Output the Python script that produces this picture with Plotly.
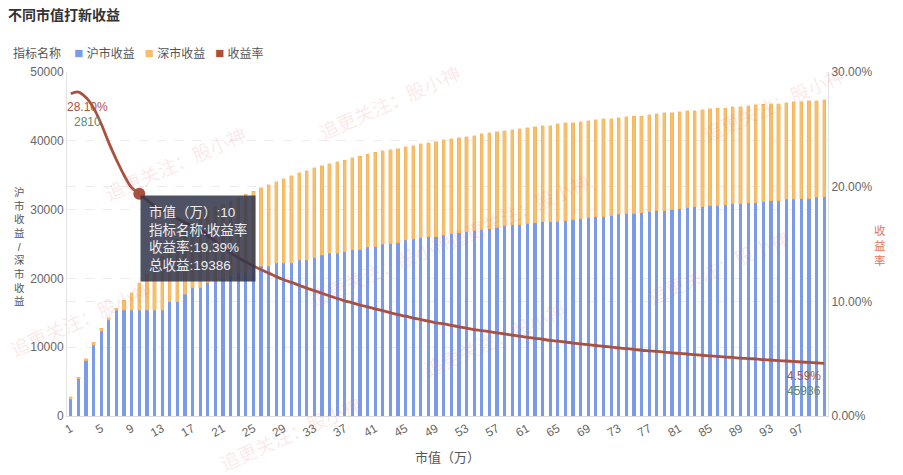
import plotly.graph_objects as go

# ---------------- data ----------------
market_value = list(range(1, 101))          # 市值（万）
tick_values = [1, 5, 9, 13, 17, 21, 25, 29, 33, 37, 41, 45, 49, 53, 57, 61, 65, 69, 73, 77, 81, 85, 89, 93, 97]

hu_income = [
    2420, 5430, 8040, 10310, 12340, 13940, 15390, 15390, 15390, 15390,
    15390, 15390, 15390, 16610, 16610, 17670, 18640, 18640, 19370, 19600,
    19850, 20330, 20820, 20820, 21550, 21780, 21780, 22170, 22170, 22170,
    22610, 22610, 23000, 23330, 23620, 23620, 23910, 24200, 24200, 24540,
    24600, 24930, 25030, 25180, 25510, 25660, 25900, 26050, 26050, 26240,
    26480, 26630, 26780, 26920, 27070, 27250, 27360, 27650, 27790, 27790,
    27940, 28080, 28230, 28230, 28230, 28370, 28520, 28660, 28810, 28950,
    28950, 29140, 29290, 29430, 29430, 29530, 29680, 29820, 29820, 30010,
    30160, 30260, 30450, 30450, 30590, 30590, 30740, 30880, 30880, 31030,
    31030, 31170, 31320, 31320, 31470, 31470, 31610, 31610, 31760, 31900,
]
shen_income = [
    390, 220, 290, 430, 390, 350, 250, 1410, 2530, 3996,
    5310, 6610, 7910, 7940, 9190, 9330, 9560, 10660, 10530, 10800,
    11000, 10970, 10930, 11430, 11150, 11380, 11860, 11870, 12300, 12780,
    12730, 13060, 13060, 13070, 13030, 13320, 13260, 13320, 13550, 13500,
    13730, 13650, 13700, 13690, 13650, 13650, 13650, 13650, 13790, 13890,
    13840, 13840, 13790, 13790, 13930, 13900, 13980, 13830, 13840, 13980,
    13940, 13940, 13940, 13970, 14230, 14230, 14100, 14090, 14080, 14090,
    14230, 14060, 14040, 14040, 14130, 14050, 14080, 14130, 14230, 14060,
    14040, 14080, 13910, 14040, 14040, 14130, 14000, 14050, 14070, 14080,
    14230, 14110, 14080, 14100, 14080, 14180, 14060, 14190, 14060, 14036,
]
total_income = [h + s for h, s in zip(hu_income, shen_income)]
# 收益率 = 总收益 / 市值
return_rate = [t / (m * 10000) for t, m in zip(total_income, market_value)]

series_names = ["沪市收益", "深市收益", "收益率"]
hover_index = 9   # the point shown with the tooltip (市值 10)

# ---------------- style ----------------
W, H = 903, 475
ML, MR, MT, MB = 67, 75, 72, 57
PW, PH = W - ML - MR, H - MT - MB
FONT = "Liberation Sans, Noto Sans CJK SC, sans-serif"
BLUE = "#7B9BE9"
ORANGE = "#F5BF6C"
RATE = "#A9513F"
GREEN = "#5E8B6C"
colors = [BLUE, ORANGE, RATE]


def px_x(px):
    return (px - ML) / PW


def px_y(py):
    return (H - MB - py) / PH


fig = go.Figure()
fig.add_trace(go.Bar(x=market_value, y=hu_income, name=series_names[0],
                     marker=dict(color=BLUE, line=dict(width=0))))
fig.add_trace(go.Bar(x=market_value, y=shen_income, name=series_names[1],
                     marker=dict(color=ORANGE, line=dict(color="#F2AD4E", width=0.4))))
fig.add_trace(go.Scatter(x=market_value, y=return_rate, yaxis="y2", mode="lines",
                         line=dict(color=RATE, width=2.8, shape="spline", smoothing=1.0),
                         name=series_names[2]))
fig.add_trace(go.Scatter(x=[market_value[hover_index]], y=[return_rate[hover_index]], yaxis="y2",
                         mode="markers", marker=dict(color=RATE, size=12)))

ann = []
# data labels first / last point
for idx, xs in [(0, 17), (len(market_value) - 1, -20)]:
    ann.append(dict(x=market_value[idx], y=return_rate[idx], xref="x", yref="y2",
                    text=f"{return_rate[idx]*100:.2f}%", showarrow=False,
                    xshift=xs, yshift=-13, font=dict(color="#B0523F", size=12, family=FONT)))
    ann.append(dict(x=market_value[idx], y=return_rate[idx], xref="x", yref="y2",
                    text=f"{total_income[idx]}", showarrow=False,
                    xshift=xs, yshift=-28, font=dict(color=GREEN, size=12, family=FONT)))

# tooltip
i = hover_index
tip = (f"市值（万）:{market_value[i]}<br>指标名称:收益率<br>"
       f"收益率:{return_rate[i]*100:.2f}%<br>总收益:{total_income[i]}")
ann.append(dict(x=market_value[i], y=return_rate[i], xref="x", yref="y2", text=tip,
                showarrow=False, xanchor="left", yanchor="top", align="left",
                bgcolor="rgba(50,54,74,0.86)", borderpad=8, xshift=1, yshift=-1,
                font=dict(color="#EDEDED", size=13.5, family=FONT)))

# legend (title + square swatches), built as one line of text
sq = "<span style='color:{c};font-size:15px'>■</span>"
legend_text = "指标名称&nbsp;&nbsp;&nbsp;&nbsp;" + "&nbsp;&nbsp;&nbsp;".join(
    sq.format(c=c) + "&nbsp;" + n for c, n in zip(colors, series_names))
ann.append(dict(x=px_x(11), y=px_y(52), xref="paper", yref="paper", xanchor="left",
                yanchor="middle", text=legend_text, showarrow=False,
                font=dict(color="#555", size=12, family=FONT)))

# vertical axis titles (stacked characters)
left_title = "沪市收益/深市收益"
ann.append(dict(x=px_x(12), y=px_y(248), xref="paper", yref="paper",
                text="<br>".join(left_title), showarrow=False, align="center",
                font=dict(color="#555", size=10.5, family=FONT)))
right_title = "收益率"
ann.append(dict(x=px_x(888), y=px_y(247), xref="paper", yref="paper",
                text="<br>".join(right_title), showarrow=False, align="center",
                font=dict(color="#E5735D", size=11.5, family=FONT)))

# watermark
wm = "追更关注：股小神"
for cx, cy in [(390, 60), (850, 62), (100, 122), (595, 170), (305, 272), (795, 270),
               (495, 385), (5, 365), (215, 480)]:
    ann.append(dict(x=px_x(cx), y=px_y(cy), xref="paper", yref="paper", text=wm,
                    showarrow=False, textangle=-24,
                    font=dict(color="rgba(232,110,110,0.16)", size=19, family=FONT)))

grid = dict(showgrid=True, gridcolor="#EDEDED", griddash="dash", gridwidth=1)
fig.update_layout(
    width=W, height=H,
    margin=dict(l=ML, r=MR, t=MT, b=MB),
    paper_bgcolor="white", plot_bgcolor="white",
    barmode="stack", bargap=0.58,
    hovermode=False, showlegend=False,
    font=dict(family=FONT, size=12, color="#666"),
    title=dict(text="<b>不同市值打新收益</b>", x=8 / W, xanchor="left", xref="container",
               y=1 - 15 / H, yanchor="middle", yref="container",
               font=dict(size=14, color="#333", family=FONT)),
    xaxis=dict(range=[0.5, 100.5], tickmode="array", tickvals=tick_values,
               ticktext=[str(v) for v in tick_values], tickangle=-30,
               showgrid=False, showline=True, linecolor="#DDDDDD", ticks="",
               zeroline=False, tickfont=dict(size=12, color="#666"),
               title=dict(text="市值（万）", font=dict(size=13, color="#555"), standoff=14)),
    yaxis=dict(range=[0, 50000], tick0=0, dtick=10000, showline=True, linecolor="#E3E3E3",
               zeroline=False, ticks="", tickfont=dict(size=12, color="#666"),
               tickformat="d", **grid),
    yaxis2=dict(range=[0, 0.30], tick0=0, dtick=0.10, overlaying="y", side="right",
                showline=True, linecolor="#E3E3E3", zeroline=False, ticks="",
                tickformat=".2%", tickfont=dict(size=12, color="#666"), **grid),
    annotations=ann,
)

fig.write_html("out.html", config={"displayModeBar": False},
               post_script="document.body.style.margin='0';document.body.style.padding='0';")
